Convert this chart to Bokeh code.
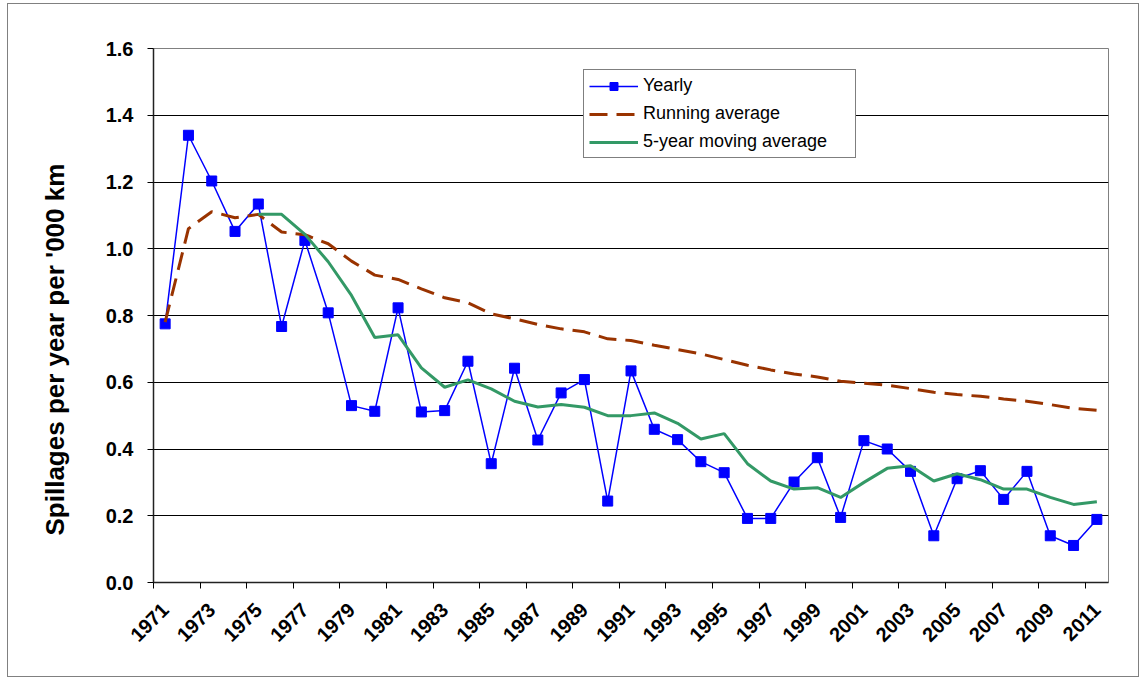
import math
from bokeh.plotting import figure
from bokeh.models import FixedTicker, NumeralTickFormatter, Legend, LegendItem, Title
from bokeh.embed import file_html
from bokeh.resources import INLINE

years = list(range(1971, 2012))
yearly = [0.775, 1.340, 1.203, 1.052, 1.134, 0.767, 1.025, 0.808, 0.530, 0.513,
          0.823, 0.511, 0.515, 0.663, 0.356, 0.642, 0.427, 0.568, 0.608, 0.244,
          0.634, 0.459, 0.428, 0.362, 0.329, 0.192, 0.192, 0.301, 0.374, 0.195,
          0.425, 0.400, 0.333, 0.140, 0.311, 0.335, 0.249, 0.333, 0.140, 0.111, 0.189]
running = [0.780, 1.060, 1.111, 1.093, 1.103, 1.050, 1.042, 1.015, 0.963, 0.921,
           0.908, 0.880, 0.853, 0.838, 0.805, 0.790, 0.773, 0.760, 0.751, 0.730,
           0.725, 0.711, 0.698, 0.685, 0.668, 0.651, 0.637, 0.625, 0.616, 0.603,
           0.597, 0.591, 0.581, 0.570, 0.563, 0.558, 0.550, 0.543, 0.533, 0.522, 0.516]
ma_years = list(range(1975, 2012))
moving5 = [1.103, 1.103, 1.043, 0.961, 0.860, 0.734,
           0.742, 0.643, 0.585, 0.607, 0.580, 0.543, 0.526, 0.533, 0.525, 0.500,
           0.500, 0.508, 0.477, 0.430, 0.446, 0.356, 0.304, 0.280, 0.284, 0.255,
           0.300, 0.342, 0.350, 0.304, 0.326, 0.308, 0.280, 0.280, 0.255, 0.234, 0.242]
label_years = years[::2]
y_ticks = [0.0, 0.2, 0.4, 0.6, 0.8, 1.0, 1.2, 1.4, 1.6]
y_title = "Spillages per year per '000 km"
series_names = ["Yearly", "Running average", "5-year moving average"]

FONT = "Liberation Sans"

p = figure(width=1132, height=674, x_range=(years[0] - 0.5, years[-1] + 0.5),
           y_range=(y_ticks[0], y_ticks[-1]), output_backend="svg", toolbar_location=None,
           min_border_left=144, min_border_right=32, min_border_top=44, min_border_bottom=96)
p.styles = {"border": "1px solid #808080", "margin-top": "3px", "margin-left": "7px"}
p.background_fill_color = "white"
p.border_fill_color = "white"
p.outline_line_color = "#808080"

r_line = p.line(years, yearly, line_color="#0000FF", line_width=1.5)
r_sq = p.scatter(years, yearly, marker="square", size=10, fill_color="#0000FF", line_color="#0000FF")
r_run = p.line(years, running, line_color="#993300", line_width=3, line_dash="18 9")
r_ma = p.line(ma_years, moving5, line_color="#339966", line_width=3)

# x axis
p.xaxis.ticker = FixedTicker(ticks=label_years, minor_ticks=[y - 0.5 for y in label_years])
p.xaxis.major_tick_line_color = None
p.xaxis.minor_tick_line_color = "black"
p.xaxis.minor_tick_out = 6
p.xaxis.minor_tick_in = 0
p.xaxis.major_label_orientation = math.pi / 4
p.xaxis.major_label_standoff = 18
p.xaxis.axis_line_width = 1.5
p.xaxis.axis_line_color = "#222222"

# y axis
p.yaxis.ticker = FixedTicker(ticks=y_ticks)
p.yaxis.formatter = NumeralTickFormatter(format="0.0")
p.yaxis.minor_tick_line_color = None
p.yaxis.major_tick_out = 6
p.yaxis.major_tick_in = 0
p.yaxis.major_label_standoff = 14
p.yaxis.axis_line_width = 1.5
p.yaxis.axis_line_color = "#222222"

for ax in (p.xaxis, p.yaxis):
    ax.major_label_text_font = FONT
    ax.major_label_text_font_style = "bold"
    ax.major_label_text_font_size = "20px"
    ax.major_label_text_color = "black"

# y-axis title (Excel places it slightly below the plot centre)
ytitle = Title(text=y_title, align="left", offset=47, vertical_align="top",
               text_font=FONT, text_font_style="bold", text_font_size="26px",
               text_color="black", standoff=62)
p.add_layout(ytitle, "left")

p.xgrid.visible = False
p.ygrid.grid_line_color = "black"
p.ygrid.grid_line_width = 1

legend = Legend(items=[
    LegendItem(label=series_names[0], renderers=[r_line, r_sq]),
    LegendItem(label=series_names[1], renderers=[r_run]),
    LegendItem(label=series_names[2], renderers=[r_ma]),
], location=(430, 424))
legend.label_text_font = FONT
legend.label_text_font_size = "18px"
legend.label_text_color = "black"
legend.glyph_width = 49
legend.glyph_height = 20
legend.label_height = 20
legend.label_width = 207
legend.label_standoff = 5
legend.spacing = 7
legend.padding = 5
legend.margin = 0
legend.border_line_color = "black"
legend.border_line_width = 1
legend.background_fill_alpha = 1
p.add_layout(legend)

open("out.html", "w").write(file_html(p, INLINE))
